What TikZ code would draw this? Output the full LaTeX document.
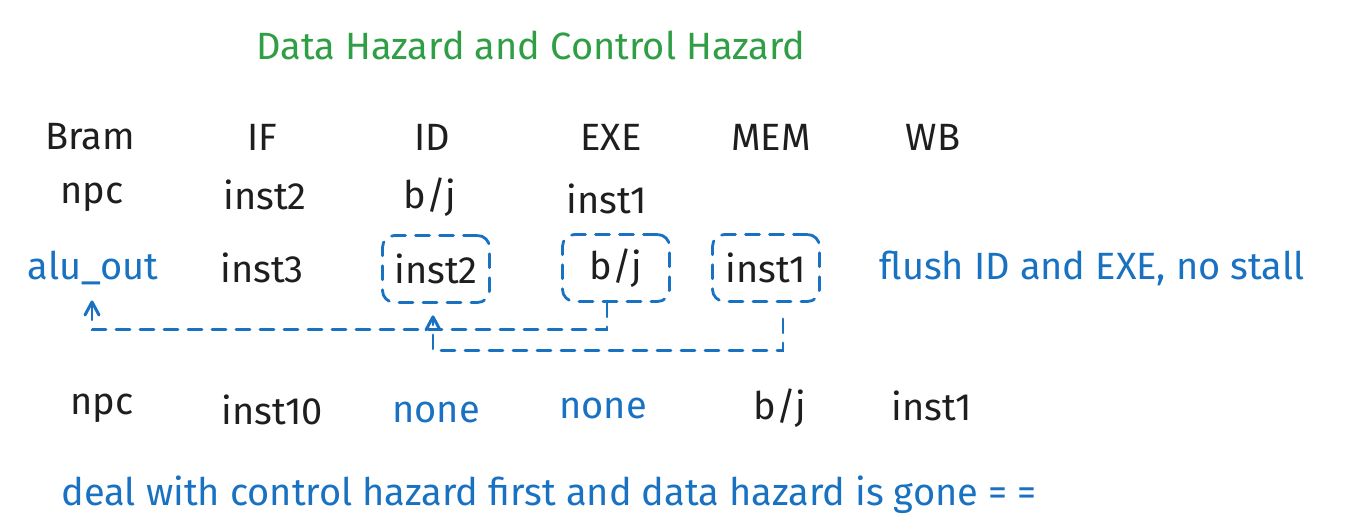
\documentclass[tikz,border=0pt]{standalone}
\usepackage{fontspec}
\setmainfont{Fira Sans}
\usetikzlibrary{calc}
\definecolor{ink}{HTML}{1E1E1E}
\definecolor{exblue}{HTML}{1971C2}
\definecolor{exgreen}{HTML}{2F9E44}
\tikzset{
  lbl/.style={font=\fontsize{38}{43}\selectfont, text=ink, inner sep=2pt},
  bluelbl/.style={lbl, text=exblue},
  greenlbl/.style={lbl, text=exgreen},
  hbox/.style={lbl, draw=exblue, line width=2.8pt, dash pattern=on 14pt off 10pt, line cap=round, rounded corners=12pt, minimum width=107pt, minimum height=67pt, inner sep=0pt},
  conn/.style={draw=exblue, line width=2.8pt, dash pattern=on 14pt off 10pt, line cap=round},
  tipline/.style={draw=exblue, line width=3pt, solid, line cap=round, line join=round},
}
\begin{document}
\begin{tikzpicture}[x=1pt,y=-1pt]
\useasboundingbox[fill=white] (0,0) rectangle (1346,526);
\node[greenlbl] (title) at (531,45) {Data Hazard and Control Hazard};
% header row
\node[lbl] (hbram) at (90,137) {Bram};
\node[lbl] (hif) at (262,137) {IF};
\node[lbl] (hid) at (432,137) {ID};
\node[lbl] (hexe) at (611,137) {EXE};
\node[lbl] (hmem) at (771,137) {MEM};
\node[lbl] (hwb) at (933,137) {WB};
% row 2
\node[lbl] (r2a) at (92,197) {npc};
\node[lbl] (r2b) at (265,195) {inst2};
\node[lbl] (r2c) at (430,197) {b/j};
\node[lbl] (r2d) at (607,199) {inst1};
% row 3
\node[bluelbl] (alu) at (93,268) {alu\_out};
\node[lbl] (r3b) at (262,268) {inst3};
\node[hbox] (box1) at (436,269) {inst2};
\node[hbox] (box2) at (616,268) {b/j};
\node[hbox] (box3) at (766,268) {inst1};
\node[bluelbl] (flush) at (1092,268) {flush ID and EXE, no stall};
% row 4
\node[lbl] (r4a) at (102,408) {npc};
\node[lbl] (r4b) at (272,410) {inst10};
\node[bluelbl] (r4c) at (436,412) {none};
\node[bluelbl] (r4d) at (603,408) {none};
\node[lbl] (r4e) at (780,408) {b/j};
\node[lbl] (r4f) at (932,406) {inst1};
% bottom note
\node[bluelbl] (note) at (549,495) {deal with control hazard first and data hazard is gone = =};
% arrow tips
\coordinate (tipA) at ($(alu.center)+(-1,34)$);
\coordinate (tipB) at ($(box1.south)+(-3,13)$);
% connectors
\draw[conn] ($(box2.south)+(-9,0)$) -- ++(0,27) -| (tipA);
\draw[tipline] ($(tipA)+(-7,13)$) -- (tipA) -- ($(tipA)+(7,13)$);
\draw[conn] ($(box3.south)+(17,16)$) -- ++(0,32) -| (tipB);
\draw[tipline] ($(tipB)+(-7,13)$) -- (tipB) -- ($(tipB)+(7,13)$);
\end{tikzpicture}
\end{document}
